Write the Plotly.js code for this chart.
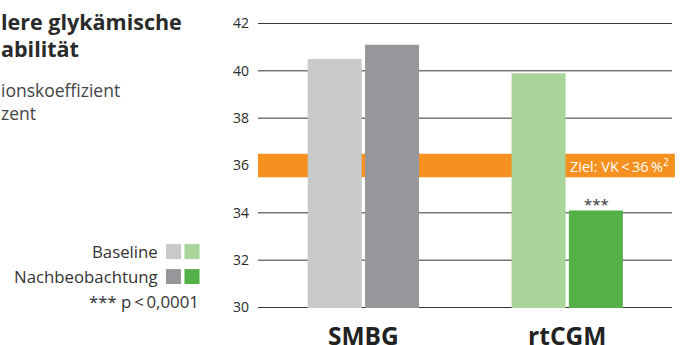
<!DOCTYPE html>
<html>
<head>
<meta charset="utf-8">
<script src="https://cdn.plot.ly/plotly-3.0.1.min.js"></script>
<style>html,body{margin:0;padding:0;background:#fff;}#chart{width:683px;height:345px;}</style>
</head>
<body>
<div id="chart"></div>
<script>
var categories = ['SMBG', 'rtCGM'];
var baselineValues = [40.5, 39.9];
var followupValues = [41.1, 34.1];
var baselineColors = ['#c8c9cb', '#a9d49a'];
var followupColors = ['#96979a', '#53b148'];
var targetLow = 35.5;
var targetHigh = 36.5;
var yTicks = [30, 32, 34, 36, 38, 40, 42];
var seriesNames = ['Baseline', 'Nachbeobachtung'];

var FONT = '"Open Sans", sans-serif';
var L = 258, R = 11, T = 22.5, B = 37, W = 683, H = 345;
var pw = W - L - R;
function px(xp) { return (xp - L) / pw; }
function py(yp) { return 1 - (yp - T) / (H - T - B); }

var traces = [
  {type: 'bar', name: seriesNames[0], x: categories, y: baselineValues,
   marker: {color: baselineColors}, hoverinfo: 'skip'},
  {type: 'bar', name: seriesNames[1], x: categories, y: followupValues,
   marker: {color: followupColors}, hoverinfo: 'skip'}
];

var annotations = [
  {text: 'lere glykämische', xref: 'paper', yref: 'paper', x: px(-1), y: py(21), xanchor: 'left', yanchor: 'middle', showarrow: false, font: {family: FONT, size: 21.5, color: '#2a2a2a', weight: 'bold'}},
  {text: 'abilität', xref: 'paper', yref: 'paper', x: px(-1), y: py(48), xanchor: 'left', yanchor: 'middle', showarrow: false, font: {family: FONT, size: 21.5, color: '#2a2a2a', weight: 'bold'}},
  {text: 'ionskoeffizient', xref: 'paper', yref: 'paper', x: px(-1), y: py(90), xanchor: 'left', yanchor: 'middle', showarrow: false, font: {family: FONT, size: 17.5, color: '#444'}},
  {text: 'zent', xref: 'paper', yref: 'paper', x: px(-1), y: py(113), xanchor: 'left', yanchor: 'middle', showarrow: false, font: {family: FONT, size: 17.5, color: '#444'}},
  {text: seriesNames[0], xref: 'paper', yref: 'paper', x: px(160), y: py(251), xanchor: 'right', yanchor: 'middle', showarrow: false, font: {family: FONT, size: 16.8, color: '#333'}},
  {text: seriesNames[1], xref: 'paper', yref: 'paper', x: px(160), y: py(276), xanchor: 'right', yanchor: 'middle', showarrow: false, font: {family: FONT, size: 16.8, color: '#333'}},
  {text: '*** p\u2009<\u20090,0001', xref: 'paper', yref: 'paper', x: px(201), y: py(301), xanchor: 'right', yanchor: 'middle', showarrow: false, font: {family: FONT, size: 16.8, color: '#333'}},
  {text: 'Ziel: VK\u2009<\u200936\u2009%<sup>2</sup>', xref: 'paper', yref: 'y', x: px(671), y: (targetLow + targetHigh) / 2, xanchor: 'right', yanchor: 'middle', showarrow: false, font: {family: FONT, size: 14.5, color: '#ffffff'}},
  {text: '***', xref: 'x', yref: 'y', x: categories[1], xshift: 29, y: followupValues[1], yanchor: 'bottom', yshift: -6, showarrow: false, font: {family: FONT, size: 15, color: '#333'}}
];

var shapes = [];
yTicks.forEach(function (v) {
  shapes.push({type: 'line', xref: 'paper', yref: 'y', x0: 0, x1: 1, y0: v, y1: v, line: {color: '#333333', width: 1}, layer: 'below'});
});
shapes.push({type: 'rect', xref: 'paper', yref: 'y', x0: 0, x1: 1.007, y0: targetLow, y1: targetHigh, fillcolor: '#f6901e', line: {width: 0}, layer: 'below'});
shapes.push(
  {type: 'rect', xref: 'paper', yref: 'paper', x0: px(166), x1: px(181), y0: py(244), y1: py(259), fillcolor: baselineColors[0], line: {width: 0}},
  {type: 'rect', xref: 'paper', yref: 'paper', x0: px(184.5), x1: px(199.5), y0: py(244), y1: py(259), fillcolor: baselineColors[1], line: {width: 0}},
  {type: 'rect', xref: 'paper', yref: 'paper', x0: px(166), x1: px(181), y0: py(269), y1: py(284), fillcolor: followupColors[0], line: {width: 0}},
  {type: 'rect', xref: 'paper', yref: 'paper', x0: px(184.5), x1: px(199.5), y0: py(269), y1: py(284), fillcolor: followupColors[1], line: {width: 0}}
);

var layout = {
  width: W, height: H,
  margin: {l: L, r: R, t: T, b: B, pad: 0},
  paper_bgcolor: '#fff', plot_bgcolor: '#fff',
  showlegend: false,
  barmode: 'group', bargap: 0.4377, bargroupgap: 0.0576,
  font: {family: FONT, color: '#2a2a2a'},
  xaxis: {type: 'category', range: [-0.517, 1.514], showgrid: false, zeroline: false, showline: false, ticks: '',
          ticklabelstandoff: 11, tickfont: {family: FONT, size: 24.5, color: '#222', weight: 'bold'}, fixedrange: true},
  yaxis: {range: [29.98, 42.02], tickvals: yTicks, showgrid: false, zeroline: false, showline: false,
          ticks: '', ticklabelstandoff: 8, tickfont: {family: FONT, size: 14, color: '#2a2a2a'}, fixedrange: true},
  shapes: shapes,
  annotations: annotations
};

Plotly.newPlot('chart', traces, layout, {displayModeBar: false, staticPlot: true});
</script>
</body>
</html>
